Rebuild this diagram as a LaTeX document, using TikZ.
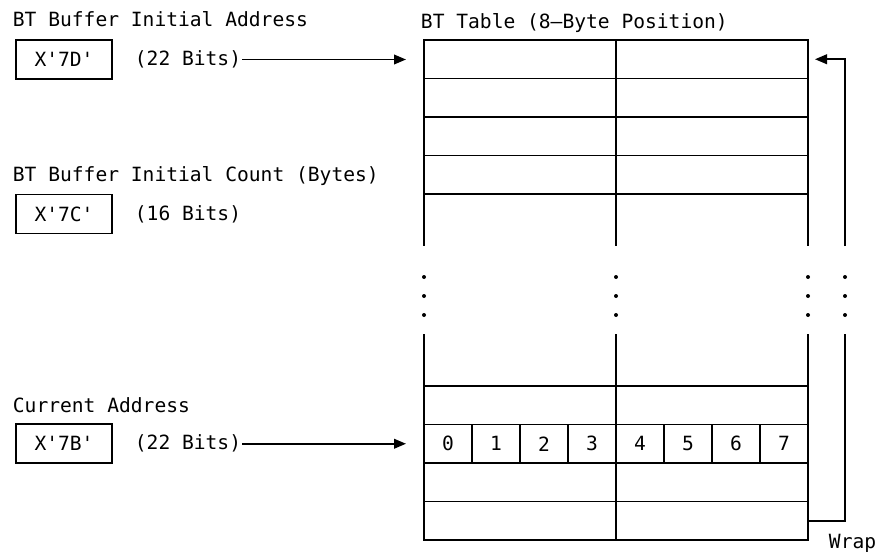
\documentclass[tikz,border=0pt]{standalone}
\usepackage{fontspec}
\setmonofont{DejaVu Sans Mono}
\usepackage{tikz}
\usetikzlibrary{arrows.meta, positioning}

\begin{document}
\begin{tikzpicture}[
  x=0.5pt, y=-0.5pt,
  font=\ttfamily\fontsize{9.8}{12}\selectfont,
  line width=0.95pt,
  lbl/.style={inner sep=0pt, anchor=base west},
  regbox/.style={draw, minimum width=48pt, minimum height=19.5pt, inner sep=0pt},
  bits/.style={inner sep=0pt},
  cell/.style={draw, minimum width=96pt, minimum height=19.25pt, inner sep=0pt, outer sep=0pt},
  bytecell/.style={draw, minimum width=24pt, minimum height=19.25pt, inner sep=0pt, outer sep=0pt},
  arr/.style={-{Triangle[length=6pt, width=4.8pt]}},
]
\useasboundingbox (0,0) rectangle (877,551);

% registers on the left
\node[lbl] (lblAddr) at (12,26.7) {BT Buffer Initial Address};
\node[regbox] (regA) at (64,59.5) {X'7D'};
\node[bits, right=10.5pt of regA] (bitsA) {(22 Bits)};

\node[lbl] (lblCount) at (12,181.7) {BT Buffer Initial Count (Bytes)};
\node[regbox] (regB) at (64,214) {X'7C'};
\node[bits, right=10.5pt of regB] (bitsB) {(16 Bits)};

\node[lbl] (lblCur) at (12,412.3) {Current Address};
\node[regbox] (regC) at (64,443.75) {X'7B'};
\node[bits, right=10.5pt of regC] (bitsC) {(22 Bits)};

% BT table
\node[lbl] (lblTable) at (420,28.3) {BT Table (8—Byte Position)};
\foreach \r in {1,...,4} {
  \node[cell] (top\r-1) at (520,{20.75+38.5*\r}) {};
  \node[cell] (top\r-2) at (712,{20.75+38.5*\r}) {};
}
\foreach \r/\yc in {1/405.25, 3/482.25, 4/520.75} {
  \node[cell] (low\r-1) at (520,\yc) {};
  \node[cell] (low\r-2) at (712,\yc) {};
}
\foreach \b in {0,...,7}
  \node[bytecell] (b\b) at ({448+48*\b},443.75) {\b};

% open rows and the gap
\foreach \x in {424,616,808} {
  \draw (\x,194) -- (\x,246);
  \draw (\x,334) -- (\x,386);
}
\foreach \x in {424,616,808,845}
  \foreach \y in {277,296,315}
    \fill (\x,\y) circle[radius=1pt];

% pointers
\draw[arr, shorten >=9pt] (bitsA.east) -- (bitsA.east -| top1-1.west);
\draw[arr, shorten >=9pt] (bitsC.east) -- (bitsC.east -| b0.west);

% wrap round
\coordinate (wrapUp) at (845,246);
\coordinate (wrapLow) at (845,334);
\draw (low4-2.east) -| (wrapLow);
\draw[arr, shorten >=3.5pt] (wrapUp) |- (top1-2.east);
\node[lbl] (lblWrap) at (828,548) {Wrap};

\end{tikzpicture}
\end{document}
